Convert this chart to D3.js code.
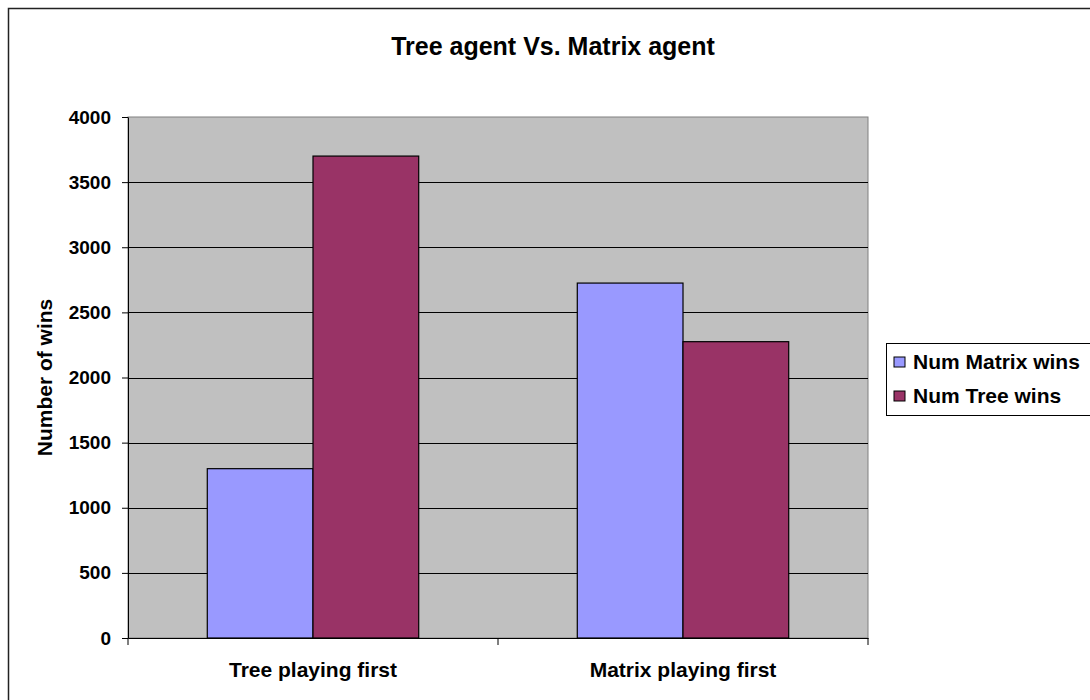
<!DOCTYPE html>
<html>
<head>
<meta charset="utf-8">
<script src="https://cdn.jsdelivr.net/npm/d3@7"></script>
<style>
  body { margin: 0; background: #fff; }
  svg text { font-family: Arial, "Liberation Sans", sans-serif; font-weight: bold; fill: #000; }
</style>
</head>
<body>
<svg id="chart" width="1090" height="700"></svg>
<script>
const categories = ["Tree playing first", "Matrix playing first"];
const seriesNames = ["Num Matrix wins", "Num Tree wins"];
const matrixWins = [1300, 2725];
const treeWins = [3700, 2275];
const yTicks = [0, 500, 1000, 1500, 2000, 2500, 3000, 3500, 4000];
const colors = ["#9999ff", "#993366"];

const svg = d3.select("#chart");

// outer chart border (runs off the right and bottom edge)
svg.append("rect")
    .attr("x", 8.5).attr("y", 8.5)
    .attr("width", 1100).attr("height", 720)
    .attr("fill", "#fff")
    .attr("stroke", "#222")
    .attr("stroke-width", 1.5);

const plot = { left: 128, right: 868, top: 117, bottom: 638 };

const x0 = d3.scaleBand().domain(categories).range([plot.left, plot.right]);
const x1 = d3.scaleBand().domain(seriesNames).range([0, x0.bandwidth()])
    .paddingInner(0).paddingOuter(0.75);
const y = d3.scaleLinear().domain([0, 4000]).range([plot.bottom, plot.top]);

// plot area
svg.append("rect")
    .attr("x", plot.left).attr("y", plot.top)
    .attr("width", plot.right - plot.left).attr("height", plot.bottom - plot.top)
    .attr("fill", "#c0c0c0")
    .attr("stroke", "#808080");

// gridlines
svg.append("g")
    .selectAll("line")
    .data(yTicks.filter((t) => t > 0 && t < 4000))
    .enter()
    .append("line")
    .attr("x1", plot.left).attr("x2", plot.right)
    .attr("y1", (d) => Math.round(y(d)) + 0.5)
    .attr("y2", (d) => Math.round(y(d)) + 0.5)
    .attr("stroke", "#000");

// bars
const rows = categories.map((c, i) => ({ cat: c, values: [matrixWins[i], treeWins[i]] }));
svg.append("g")
    .selectAll("g")
    .data(rows)
    .enter()
    .append("g")
    .attr("transform", (d) => "translate(" + x0(d.cat) + ",0)")
    .selectAll("rect")
    .data((d) => d.values.map((v, j) => ({ name: seriesNames[j], value: v, j: j })))
    .enter()
    .append("rect")
    .attr("x", (d) => x1(d.name))
    .attr("y", (d) => y(d.value))
    .attr("width", x1.bandwidth())
    .attr("height", (d) => plot.bottom - y(d.value))
    .attr("fill", (d) => colors[d.j])
    .attr("stroke", "#000")
    .attr("stroke-width", 1.2);

// y axis
const yAxis = svg.append("g")
    .attr("transform", "translate(" + plot.left + ",0)")
    .call(d3.axisLeft(y).tickValues(yTicks).tickFormat(d3.format("d"))
        .tickSize(6).tickPadding(11).tickSizeOuter(0));
yAxis.select(".domain").attr("stroke", "#000");
yAxis.selectAll("line").attr("stroke", "#000");
yAxis.selectAll("text")
    .style("font-size", "19px")
    .attr("fill", "#000");

// x axis
const xAxis = svg.append("g")
    .attr("transform", "translate(0," + plot.bottom + ")")
    .call(d3.axisBottom(x0).tickSize(0).tickPadding(24));
xAxis.select(".domain").attr("stroke", "#000");
xAxis.selectAll("text")
    .style("font-size", "21px")
    .attr("fill", "#000");
// category boundary ticks
svg.append("g")
    .selectAll("line")
    .data([plot.left, x0(categories[1]), plot.right])
    .enter()
    .append("line")
    .attr("x1", (d) => d).attr("x2", (d) => d)
    .attr("y1", plot.bottom).attr("y2", plot.bottom + 7)
    .attr("stroke", "#000");

// titles
svg.append("text")
    .attr("x", 553).attr("y", 55)
    .attr("text-anchor", "middle")
    .style("font-size", "25px")
    .text("Tree agent Vs. Matrix agent");

svg.append("text")
    .attr("transform", "translate(52," + (plot.top + plot.bottom) / 2 + ") rotate(-90)")
    .attr("text-anchor", "middle")
    .style("font-size", "21px")
    .text("Number of wins");

// legend
const legend = svg.append("g");
legend.append("rect")
    .attr("x", 886.5).attr("y", 343.5)
    .attr("width", 260).attr("height", 72)
    .attr("fill", "#fff")
    .attr("stroke", "#000");
const items = legend.selectAll("g.item")
    .data(seriesNames)
    .enter()
    .append("g")
    .attr("class", "item")
    .attr("transform", (d, i) => "translate(894," + (357 + i * 34) + ")");
items.append("rect")
    .attr("width", 11).attr("height", 10)
    .attr("fill", (d, i) => colors[i])
    .attr("stroke", "#000");
items.append("text")
    .attr("x", 19).attr("y", 11.5)
    .style("font-size", "21px")
    .text((d) => d);
</script>
</body>
</html>
